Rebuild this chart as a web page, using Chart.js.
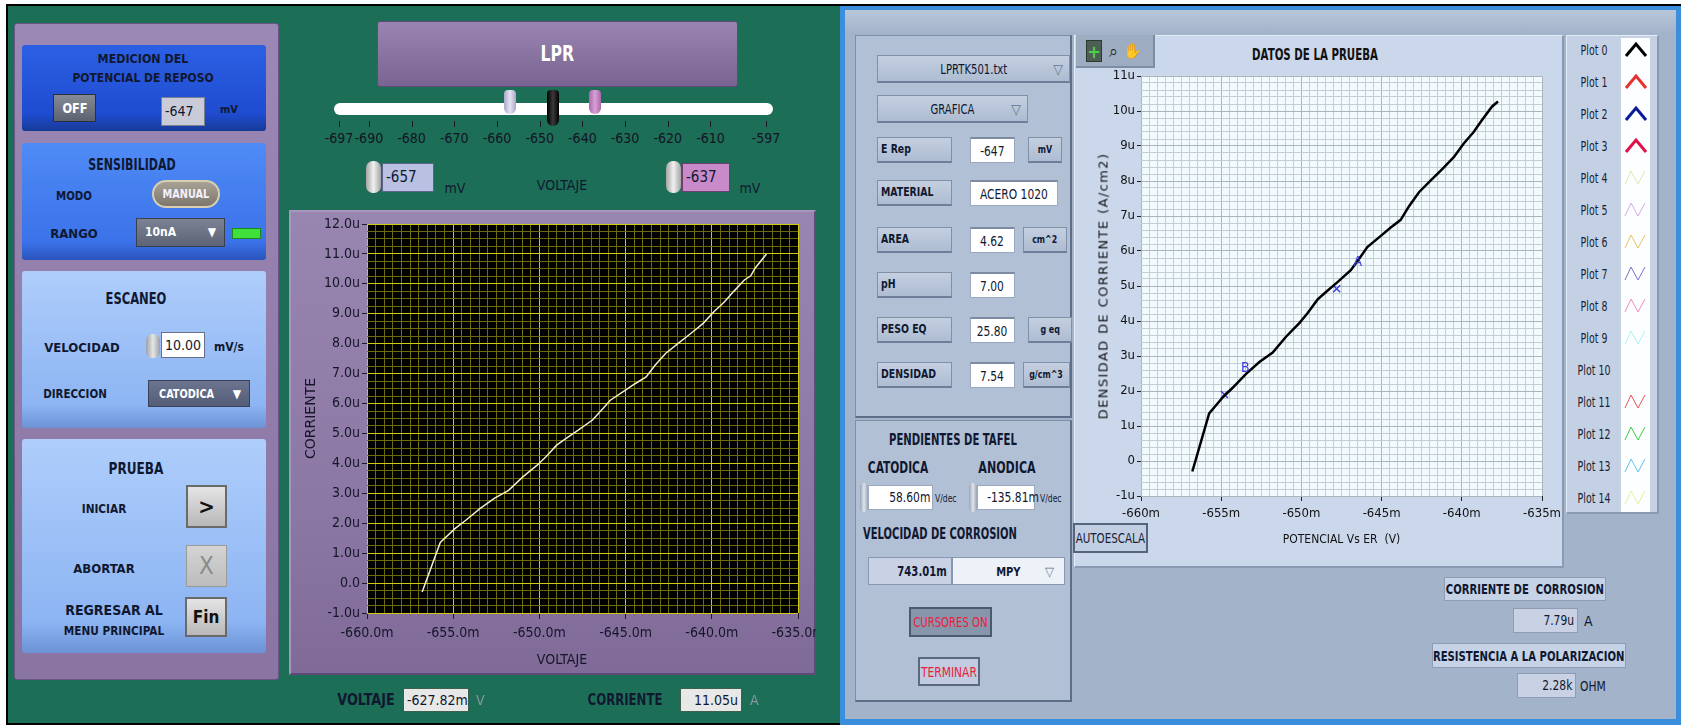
<!DOCTYPE html>
<html>
<head>
<meta charset="utf-8">
<title>LPR</title>
<script src="https://cdn.jsdelivr.net/npm/chart.js@4.4.1/dist/chart.umd.min.js"></script>
<style>
  body { margin:0; width:1681px; height:725px; overflow:hidden; background:#fff; position:relative;
         font-family:'Liberation Sans Narrow','DejaVu Sans Condensed','Liberation Sans',sans-serif; color:#101830; }
  .a { position:absolute; box-sizing:border-box; }
  .lbl { position:absolute; white-space:nowrap; font-weight:bold; font-size:13px; }
  .c { display:flex; align-items:center; justify-content:center; white-space:nowrap; }
  .sq { display:inline-block; }
</style>
</head>
<body>
<script>
// ---- data (mV, uA) ----
const voltaje = [-656.8, -655.75, -654.9, -654.27, -653.45, -652.62, -651.79, -650.96, -650.13, -649.62,
                 -649.0, -648.47, -647.75, -646.92, -646.3, -645.89, -645.16, -644.43, -643.81, -643.29,
                 -642.67, -641.95, -641.22, -640.5, -639.88, -639.26, -638.74, -638.11, -637.74, -637.49, -636.83];
const corriente = [-0.3, 1.36, 1.82, 2.1, 2.49, 2.83, 3.1, 3.55, 3.94, 4.22,
                   4.61, 4.83, 5.11, 5.45, 5.84, 6.11, 6.39, 6.67, 6.89, 7.28,
                   7.68, 8.01, 8.34, 8.68, 9.07, 9.4, 9.74, 10.13, 10.27, 10.52, 11.0];
// the DATOS DE LA PRUEBA graph stops earlier
const finDensidad = -637.74;

const cursorNombre = ['A', 'B'];
const cursorV = [-647.8, -654.8];
const cursorI = [4.92, 1.9];

const sliderTicks = [-697, -690, -680, -670, -660, -650, -640, -630, -620, -610, -597];
const sliderCursores = [-657, -647, -637];

const plotNombres = ['Plot 0','Plot 1','Plot 2','Plot 3','Plot 4','Plot 5','Plot 6','Plot 7',
                     'Plot 8','Plot 9','Plot 10','Plot 11','Plot 12','Plot 13','Plot 14'];
const plotColores = ['#000000','#e83030','#0a1a9a','#e01048','#dceaa8','#d8a8ec','#f0c060','#7474c8',
                     '#f08cc0','#a8f4f4',null,'#f05050','#3cd040','#60c4f0','#e4f0a0'];

// ---- small DOM helpers ----
function el(x1, y1, x2, y2, css, html) {
    const d = document.createElement('div');
    d.className = 'a';
    d.style.cssText = `left:${x1}px;top:${y1}px;width:${x2 - x1}px;height:${y2 - y1}px;` + (css || '');
    if (html !== undefined) d.innerHTML = html;
    document.body.appendChild(d);
    return d;
}

// squeeze text horizontally, the LabVIEW font is very narrow
function sq(text, s, origin) {
    return `<span class="sq" style="transform:scaleX(${s || 0.85});transform-origin:${origin || 'center'};">${text}</span>`;
}

function label(x, y, text, css, align, s) {
    const d = document.createElement('div');
    d.className = 'lbl';
    const tx = align === 'left' ? '0' : (align === 'right' ? '-100%' : '-50%');
    const origin = align === 'left' ? 'left' : (align === 'right' ? 'right' : 'center');
    d.style.cssText = `left:${x}px;top:${y}px;transform:translate(${tx},-50%) scaleX(${s || 1});transform-origin:${origin} center;` + (css || '');
    d.textContent = text;
    document.body.appendChild(d);
    return d;
}

// ================= LEFT FRONT PANEL =================
el(6, 4, 842, 725, 'background:#1d6e57;border:2px solid #000;');
el(14, 23, 279, 680, 'background:linear-gradient(#9c88b4,#8a74a2);border:1px solid #6a5684;border-radius:3px;');

// MEDICION
el(22, 45, 266, 131, 'background:linear-gradient(#2c60e4,#1f4cd0 80%,#173a98);border-radius:3px;');
label(143, 58, 'MEDICION DEL', '', '', 0.95);
label(143, 77, 'POTENCIAL DE REPOSO', '', '', 0.92);
el(53, 94, 96, 122, 'background:linear-gradient(#858a96,#5d6270);border:1px solid #2b2f3a;color:#fff;font-weight:bold;font-size:14px;', sq('OFF', 0.9)).classList.add('c');
el(161, 97, 205, 126, 'background:#c9ccd8;border:1px solid #7a7f90;padding-left:3px;font-size:14px;line-height:27px;', '-647');
label(220, 109, 'mV', 'font-size:11px;', 'left');

// SENSIBILIDAD
el(22, 143, 266, 260, 'background:linear-gradient(#4f8bf6,#3b72e9 85%,#2a54bc);border-radius:3px;');
label(132, 165, 'SENSIBILIDAD', 'font-size:15px;', '', 0.82);
label(74, 195, 'MODO', '', '', 0.87);
el(152, 180, 220, 208, 'background:linear-gradient(#a8a296,#7c766c);border:2px solid #d8cfb0;border-radius:14px;color:#f4f0ff;font-weight:bold;font-size:12px;', sq('MANUAL', 0.9)).classList.add('c');
label(74, 233, 'RANGO');
el(136, 218, 225, 247, 'background:linear-gradient(#7b8294,#5d6476);border:1px solid #3a4050;color:#fff;font-weight:bold;font-size:12px;padding-left:8px;line-height:27px;', '10nA<span style="position:absolute;right:8px;font-size:12px;">&#9660;</span>');
el(232, 228, 261, 239, 'background:#3fe03a;border:1px solid #1f8a1c;');

// ESCANEO
el(22, 271, 266, 428, 'background:linear-gradient(#aecdfb,#8db5f3 85%,#6c92d6);border-radius:3px;');
label(136, 298, 'ESCANEO', 'font-size:16px;', '', 0.8);
label(82, 347, 'VELOCIDAD');
el(146, 334, 160, 358, 'background:linear-gradient(90deg,#9aa0a8,#e6e6e6,#9aa0a8);border-radius:6px;');
el(161, 332, 205, 358, 'background:#fff;border:1px solid #6a7088;padding-left:3px;font-size:14px;line-height:25px;', '10.00');
label(214, 347, 'mV/s', 'font-size:12px;', 'left');
label(75, 393, 'DIRECCION', '', '', 0.88);
el(148, 380, 250, 407, 'background:linear-gradient(#6b7590,#545d78);border:1px solid #39405a;color:#fff;font-weight:bold;font-size:12px;padding-left:10px;line-height:26px;', sq('CATODICA', 0.9, 'left') + '<span style="position:absolute;right:8px;">&#9660;</span>');

// PRUEBA
el(22, 439, 266, 653, 'background:linear-gradient(#aecdfb,#8db5f3 85%,#6c92d6);border-radius:3px;');
label(136, 468, 'PRUEBA', 'font-size:16px;', '', 0.84);
label(104, 508, 'INICIAR', '', '', 0.9);
el(186, 485, 227, 528, 'background:linear-gradient(#e4e4e4,#b8b8b8);border:2px solid #6a6a6a;font-weight:bold;font-size:22px;color:#111;', '&gt;').classList.add('c');
label(104, 568, 'ABORTAR');
el(186, 545, 227, 587, 'background:linear-gradient(#d4d4d4,#bcbcbc);border:1px solid #9a9a9a;font-size:24px;color:#8a8a8a;', 'X').classList.add('c');
label(114, 610, 'REGRESAR AL', 'font-size:14px;');
label(114, 630, 'MENU PRINCIPAL', '', '', 0.9);
el(185, 597, 227, 637, 'background:linear-gradient(#e4e4e4,#b8b8b8);border:2px solid #6a6a6a;font-weight:bold;font-size:17px;color:#111;', 'Fin').classList.add('c');

// LPR button + slider
el(377, 21, 738, 87, 'background:linear-gradient(#9a84b0,#86709e 60%,#7a6492);border:1px solid #5e4c78;border-radius:3px;color:#fff;font-weight:bold;font-size:21px;', sq('LPR', 0.83)).classList.add('c');
el(334, 103, 773, 115, 'background:#fff;border-radius:6px;');
const sx = v => 339 + (v + 697) * 4.27;
sliderTicks.forEach(v => {
    el(sx(v), 121, sx(v) + 1, 127, 'background:#1a1a2a;');
    label(sx(v), 138, String(v), 'font-weight:normal;font-size:14px;color:#141424;');
});
const thumbCss = ['background:linear-gradient(90deg,#aaa6c4,#e6e2f4,#aaa6c4);',
                  'background:linear-gradient(90deg,#000,#3a3a3a,#000);',
                  'background:linear-gradient(90deg,#a868a8,#d8a0d8,#a868a8);'];
sliderCursores.forEach((v, i) => {
    const bottom = i === 1 ? 126 : 114;
    el(sx(v) - 6, 90, sx(v) + 6, bottom, thumbCss[i] + 'border-radius:4px 4px 6px 6px;');
});
el(366, 161, 381, 193, 'background:linear-gradient(90deg,#a4a4a4,#f0f0f0,#a4a4a4);border-radius:7px;');
el(382, 163, 434, 192, 'background:#b9c0e2;border:1px solid #5c6288;padding-left:3px;font-size:15px;line-height:27px;', '-657');
label(455, 188, 'mV', 'font-weight:normal;font-size:14px;');
label(562, 185, 'VOLTAJE', 'font-weight:normal;font-size:14px;');
el(666, 161, 681, 193, 'background:linear-gradient(90deg,#a4a4a4,#f0f0f0,#a4a4a4);border-radius:7px;');
el(682, 163, 730, 192, 'background:#c88ac8;border:1px solid #6a4070;padding-left:3px;font-size:15px;line-height:27px;', '-637');
label(750, 188, 'mV', 'font-weight:normal;font-size:14px;');

// chart frame (left)
el(289, 210, 816, 675, 'background:linear-gradient(#9986b0,#8a76a2 70%,#806a98);border:2px solid #a896c0;border-bottom-color:#5e4c78;border-right-color:#5e4c78;');
const wrapL = el(289, 210, 816, 675, 'overflow:hidden;');
const cvL = document.createElement('canvas');
wrapL.appendChild(cvL);
label(562, 659, 'VOLTAJE', 'font-weight:normal;font-size:14px;color:#16162a;');

label(366, 700, 'VOLTAJE', 'font-size:15px;', '', 0.95);
el(403, 688, 469, 712, 'background:#e8e8e8;border:1px solid #40604e;font-size:14px;line-height:22px;padding-left:3px;', '-627.82m');
label(476, 700, 'V', 'font-weight:normal;font-size:14px;color:#8a96a0;', 'left');
label(625, 700, 'CORRIENTE', 'font-size:15px;', '', 0.87);
el(680, 688, 742, 712, 'background:#e8e8e8;border:1px solid #40604e;font-size:14px;line-height:22px;text-align:right;padding-right:3px;', '11.05u');
label(750, 700, 'A', 'font-weight:normal;font-size:14px;color:#8a96a0;', 'left');

// ================= RIGHT PANEL =================
el(840, 4, 1681, 725, 'background:#3a8edc;border-top:2px solid #000;');
el(845, 10, 1676, 719, 'background:#a3b3ca;');
el(845, 10, 1676, 33, 'background:linear-gradient(#b9c6d8,#a3b3ca);');

el(855, 35, 1072, 418, 'background:#b2c0d6;border:1px solid #7e8ea6;border-right:2px solid #5e6e88;border-bottom:2px solid #5e6e88;');
el(855, 420, 1072, 702, 'background:#b2c0d6;border:1px solid #7e8ea6;border-right:2px solid #5e6e88;border-bottom:2px solid #5e6e88;');

const ctrl = 'background:linear-gradient(#c4cfe0,#aebcd2);border:1px solid #8090a8;border-bottom:2px solid #6e7e98;';
el(877, 55, 1070, 83, ctrl + 'font-size:14px;', sq('LPRTK501.txt', 0.8) + '<span style="position:absolute;right:6px;color:#6a7890;">&#9661;</span>').classList.add('c');
el(877, 95, 1028, 123, ctrl + 'font-size:14px;', sq('GRAFICA', 0.8) + '<span style="position:absolute;right:6px;color:#6a7890;">&#9661;</span>').classList.add('c');

const filas = [
    ['E Rep', 137, '-647', 'mV', 970, 1015, 1028, 1062],
    ['MATERIAL', 180, 'ACERO 1020', null, 970, 1058],
    ['AREA', 227, '4.62', 'cm^2', 970, 1015, 1023, 1067],
    ['pH', 272, '7.00', null, 970, 1015],
    ['PESO EQ', 317, '25.80', 'g eq', 970, 1015, 1028, 1072],
    ['DENSIDAD', 362, '7.54', 'g/cm^3', 970, 1015, 1023, 1070]
];
filas.forEach(f => {
    el(877, f[1], 952, f[1] + 26, ctrl + 'font-weight:bold;font-size:13px;padding-left:3px;line-height:22px;', sq(f[0], 0.8, 'left'));
    el(f[4], f[1], f[5], f[1] + 26, 'background:#fff;border:1px solid #9aa8c0;border-top:2px solid #7c8aa2;font-size:14px;', sq(f[2], 0.85)).classList.add('c');
    if (f[3]) el(f[6], f[1], f[7], f[1] + 26, ctrl + 'font-weight:bold;font-size:11px;', sq(f[3], 0.8)).classList.add('c');
});

label(953, 440, 'PENDIENTES DE TAFEL', 'font-size:15px;', '', 0.75);
label(898, 467, 'CATODICA', 'font-size:16px;', '', 0.74);
label(1007, 467, 'ANODICA', 'font-size:16px;', '', 0.77);
el(860, 483, 868, 512, 'background:linear-gradient(90deg,#98a4b8,#e0e4ec,#98a4b8);border-radius:4px;');
el(868, 485, 933, 510, 'background:#fff;border:1px solid #9aa8c0;text-align:right;padding-right:2px;font-size:14px;line-height:23px;', sq('58.60m', 0.85, 'right'));
label(935, 498, 'V/dec', 'font-weight:normal;font-size:10px;', 'left', 0.85);
el(969, 483, 977, 512, 'background:linear-gradient(90deg,#98a4b8,#e0e4ec,#98a4b8);border-radius:4px;');
el(977, 485, 1035, 510, 'background:#fff;border:1px solid #9aa8c0;text-align:right;padding-right:2px;font-size:14px;line-height:23px;', sq('-135.81m', 0.85, 'right'));
label(1040, 498, 'V/dec', 'font-weight:normal;font-size:10px;', 'left', 0.85);
label(940, 534, 'VELOCIDAD DE CORROSION', 'font-size:15px;', '', 0.74);
el(868, 557, 952, 585, 'background:#c8d2e4;border:1px solid #8898b0;text-align:right;padding-right:4px;font-weight:bold;font-size:14px;line-height:26px;', sq('743.01m', 0.8, 'right'));
el(952, 557, 1065, 585, 'background:#edf1f8;border:1px solid #8898b0;font-weight:bold;font-size:13px;', sq('MPY', 0.85) + '<span style="position:absolute;right:10px;color:#6a7890;">&#9661;</span>').classList.add('c');
el(909, 607, 992, 637, 'background:#8896ac;border:2px solid #4c5a70;color:#e8203c;font-size:14px;', sq('CURSORES ON', 0.8)).classList.add('c');
el(918, 657, 980, 686, 'background:#c2cce0;border:2px solid #5a6880;color:#e8203c;font-size:14px;', sq('TERMINAR', 0.85)).classList.add('c');

// graph panel
el(1074, 35, 1564, 568, 'background:#cbd8ec;border:1px solid #e4ecf8;border-right:2px solid #8a9ab2;border-bottom:2px solid #8a9ab2;');
el(1076, 35, 1155, 68, 'background:#9eacc2;border-right:2px solid #7e8ca4;border-bottom:2px solid #7e8ca4;');
el(1086, 40, 1102, 62, 'background:#4f5e54;border:1px solid #2a3a30;color:#4cd04a;font-weight:bold;font-size:18px;', '+').classList.add('c');
el(1105, 40, 1121, 62, 'color:#222;font-size:16px;', '&#8981;').classList.add('c');
el(1124, 40, 1140, 62, 'color:#333;font-size:15px;', '&#9995;').classList.add('c');
label(1315, 55, 'DATOS DE LA PRUEBA', 'font-size:15px;color:#111;', '', 0.76);
const wrapR = el(1074, 35, 1564, 568, '');
const cvR = document.createElement('canvas');
wrapR.appendChild(cvR);
const tituloY = label(1103, 286, 'DENSIDAD DE CORRIENTE (A/cm2)', "font-family:'DejaVu Sans';font-weight:normal;font-size:13px;letter-spacing:1.4px;color:#111;");
tituloY.style.transform = 'translate(-50%,-50%) rotate(-90deg)';
el(1073, 523, 1148, 553, 'background:#c2cee2;border:2px solid #56647c;font-weight:normal;font-size:14px;color:#1a2234;', sq('AUTOESCALA', 0.82)).classList.add('c');

// legend
el(1566, 35, 1659, 514, 'background:#c4d1e5;border:1px solid #e4ecf8;border-right:2px solid #8a9ab2;border-bottom:2px solid #8a9ab2;');
el(1621, 38, 1650, 512, 'background:#fdfeff;');
plotNombres.forEach((n, i) => {
    const y = 50 + i * 32;
    label(1594, y, n, 'font-weight:normal;font-size:14px;color:#1a2234;', '', 0.75);
    const c = plotColores[i];
    if (!c) return;
    const pts = i < 4 ? '3,17 13,5 23,17' : '2,17 8,4 15,17 22,4';
    const w = i < 4 ? 3 : 1;
    el(1623, y - 11, 1649, y + 11, '', `<svg width="26" height="22"><polyline points="${pts}" fill="none" stroke="${c}" stroke-width="${w}"/></svg>`);
});

// bottom results
el(1444, 577, 1606, 601, 'background:#c6d2e6;border:1px solid #8e9cb4;font-weight:bold;font-size:14px;', sq('CORRIENTE DE &nbsp;CORROSION', 0.8)).classList.add('c');
el(1513, 608, 1578, 633, 'background:#c8d2e4;border:1px solid #8e9cb4;text-align:right;padding-right:3px;font-size:14px;line-height:23px;', sq('7.79u', 0.85, 'right'));
label(1584, 621, 'A', 'font-weight:normal;font-size:14px;', 'left');
el(1432, 643, 1626, 668, 'background:#c6d2e6;border:1px solid #8e9cb4;font-weight:bold;font-size:14px;', sq('RESISTENCIA A LA POLARIZACION', 0.8)).classList.add('c');
el(1517, 673, 1576, 698, 'background:#c8d2e4;border:1px solid #8e9cb4;text-align:right;padding-right:3px;font-size:14px;line-height:23px;', sq('2.28k', 0.85, 'right'));
label(1580, 686, 'OHM', 'font-weight:normal;font-size:14px;', 'left', 0.85);

// ================= CHARTS =================
Chart.defaults.font.family = "'Liberation Sans Narrow','DejaVu Sans Condensed','Liberation Sans',sans-serif";
Chart.defaults.animation = false;

const isMultiple = (v, step) => Math.abs(v / step - Math.round(v / step)) < 1e-6;

const plotBg = {
    id: 'plotBg',
    beforeDraw(chart, args, opts) {
        const a = chart.chartArea;
        chart.ctx.save();
        chart.ctx.fillStyle = opts.color;
        chart.ctx.fillRect(a.left, a.top, a.right - a.left, a.bottom - a.top);
        chart.ctx.restore();
    }
};

const cursorLabels = {
    id: 'cursorLabels',
    afterDatasetsDraw(chart) {
        const meta = chart.getDatasetMeta(1);
        if (!meta) return;
        const ctx = chart.ctx;
        ctx.save();
        ctx.fillStyle = '#3c3ce6';
        ctx.font = '14px ' + Chart.defaults.font.family;
        ctx.textAlign = 'center';
        ctx.textBaseline = 'middle';
        meta.data.forEach((p, i) => ctx.fillText(cursorNombre[i], p.x + 21, p.y - 26));
        ctx.restore();
    }
};

function fixAxis(width, height) {
    return function(scale) {
        if (width) scale.width = width;
        if (height) scale.height = height;
        scale.paddingLeft = 0; scale.paddingRight = 0;
        scale.paddingTop = 0; scale.paddingBottom = 0;
    };
}

new Chart(cvL, {
    type: 'scatter',
    data: {
        datasets: [{
            data: voltaje.map((v, i) => ({ x: v, y: corriente[i] })),
            showLine: true,
            borderColor: '#f2eecc',
            borderWidth: 1.5,
            pointRadius: 0
        }]
    },
    options: {
        responsive: true,
        maintainAspectRatio: false,
        layout: { padding: { top: 14, right: 18 } },
        plugins: { legend: { display: false }, tooltip: { enabled: false }, plotBg: { color: '#000' } },
        scales: {
            x: {
                min: -660, max: -635,
                afterFit: fixAxis(null, 62),
                border: { display: false },
                grid: {
                    color: c => isMultiple(c.tick.value, 5) ? '#cfcb10' : '#6e6c08',
                    tickColor: c => isMultiple(c.tick.value, 5) ? '#1a1a2a' : 'rgba(0,0,0,0)',
                    tickLength: 6
                },
                ticks: {
                    stepSize: 0.5, autoSkip: false, maxRotation: 0, padding: 6,
                    color: '#16162a', font: { size: 14 },
                    callback: v => isMultiple(v, 5) ? v.toFixed(1) + 'm' : ''
                }
            },
            y: {
                min: -1, max: 12,
                afterFit: fixAxis(78, null),
                border: { display: false },
                grid: {
                    color: c => isMultiple(c.tick.value, 1) ? '#cfcb10' : '#6e6c08',
                    tickColor: c => isMultiple(c.tick.value, 1) ? '#1a1a2a' : 'rgba(0,0,0,0)',
                    tickLength: 5
                },
                ticks: {
                    stepSize: 0.25, autoSkip: false, padding: 2,
                    color: '#16162a', font: { size: 14 },
                    callback: v => isMultiple(v, 1) ? (v === 0 ? '0.0' : v.toFixed(1) + 'u') : ''
                },
                title: { display: true, text: 'CORRIENTE', color: '#16162a', font: { family: 'DejaVu Sans', size: 14 }, padding: { top: 14, bottom: 0 } }
            }
        }
    },
    plugins: [plotBg]
});

const nDens = voltaje.filter(v => v <= finDensidad).length;

new Chart(cvR, {
    type: 'scatter',
    data: {
        datasets: [{
            data: voltaje.slice(0, nDens).map((v, i) => ({ x: v, y: corriente[i] })),
            showLine: true,
            borderColor: '#000',
            borderWidth: 2.5,
            pointRadius: 0
        }, {
            data: cursorV.map((v, i) => ({ x: v, y: cursorI[i] })),
            showLine: false,
            pointStyle: 'crossRot',
            pointRadius: 5,
            borderColor: '#3c3ce6',
            borderWidth: 1.5
        }]
    },
    options: {
        responsive: true,
        maintainAspectRatio: false,
        layout: { padding: { top: 41, right: 22 } },
        plugins: { legend: { display: false }, tooltip: { enabled: false }, plotBg: { color: '#f3fafd' } },
        scales: {
            x: {
                min: -660, max: -635,
                afterFit: fixAxis(null, 72),
                border: { display: false },
                grid: {
                    color: c => isMultiple(c.tick.value, 5) ? '#a9b6bc' : '#c3ced3',
                    tickColor: c => isMultiple(c.tick.value, 5) ? '#222' : 'rgba(0,0,0,0)',
                    tickLength: 5
                },
                ticks: {
                    stepSize: 0.5, autoSkip: false, maxRotation: 0, padding: 5,
                    color: '#111', font: { size: 13 },
                    callback: v => isMultiple(v, 5) ? Math.round(v) + 'm' : ''
                },
                title: { display: true, text: 'POTENCIAL Vs ER  (V)', color: '#111', font: { size: 12 }, padding: { top: 0, bottom: 21 } }
            },
            y: {
                min: -1, max: 11,
                afterFit: fixAxis(67, null),
                border: { display: false },
                grid: {
                    color: c => isMultiple(c.tick.value, 1) ? '#a9b6bc' : '#c3ced3',
                    tickColor: c => isMultiple(c.tick.value, 1) ? '#222' : 'rgba(0,0,0,0)',
                    tickLength: 4
                },
                ticks: {
                    stepSize: 0.2, autoSkip: false, padding: 2,
                    color: '#111', font: { size: 13 },
                    callback: v => isMultiple(v, 1) ? (Math.round(v) === 0 ? '0' : Math.round(v) + 'u') : ''
                }
            }
        }
    },
    plugins: [plotBg, cursorLabels]
});
</script>
</body>
</html>
